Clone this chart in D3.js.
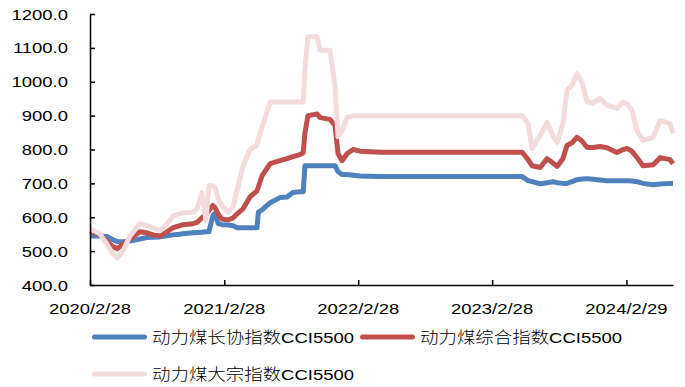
<!DOCTYPE html>
<html>
<head>
<meta charset="utf-8">
<script src="https://cdn.jsdelivr.net/npm/d3@7"></script>
<style>
  html, body { margin: 0; padding: 0; background: #fff; }
  svg { display: block; }
  text { font-family: "Liberation Sans", Arial, "Noto Sans CJK SC", sans-serif; fill: #000; }
  .legend-text { font-weight: 300; }
</style>
</head>
<body>
<svg id="chart" width="685" height="387"></svg>
<script>
// Observation dates (weekly index, key turning points)
const dates = [
  "2020-02-28","2020-03-26","2020-04-14","2020-04-28","2020-05-12","2020-05-28","2020-06-16",
  "2020-07-13","2020-08-01","2020-08-18","2020-09-06","2020-09-25","2020-10-11","2020-10-30",
  "2020-11-07","2020-12-05","2020-12-16","2020-12-29","2021-01-09","2021-01-17","2021-01-28",
  "2021-02-03","2021-02-11","2021-02-22","2021-03-10","2021-03-24","2021-04-04","2021-04-20",
  "2021-05-09","2021-05-28","2021-06-01","2021-06-11","2021-07-03","2021-07-30","2021-08-18",
  "2021-09-03","2021-09-22","2021-10-01","2021-10-06","2021-10-14","2021-11-08","2021-11-16",
  "2021-12-13","2021-12-27","2022-01-04","2022-01-15","2022-01-29","2022-02-14","2022-03-05",
  "2022-05-01","2023-05-21","2023-06-06","2023-06-17","2023-07-09","2023-07-28","2023-08-13",
  "2023-08-24","2023-09-09","2023-09-20","2023-10-04","2023-10-17","2023-10-31","2023-11-14",
  "2023-11-30","2023-12-19","2024-01-07","2024-02-03","2024-02-20","2024-03-02","2024-03-15",
  "2024-03-29","2024-04-14","2024-05-12","2024-05-31","2024-06-27","2024-07-05"
];

// 动力煤长协指数CCI5500
const longTerm = [
  545,545,543,535,528,528,530,536,540,541,542,545,548,550,
  551,554,555,556,557,557,605,612,582,578,577,575,569,569,
  569,569,615,622,643,658,660,673,675,675,752,752,752,752,
  752,752,735,726,726,724,722,720,720,708,705,699,702,705,
  702,700,700,705,711,713,714,712,710,708,708,708,708,707,
  705,700,696,698,700,700
];

// 动力煤综合指数CCI5500
const composite = [
  560,548,530,515,507,520,536,557,554,548,545,557,569,575,
  578,581,585,598,608,620,635,628,610,595,592,598,610,625,
  660,678,690,723,758,767,773,779,785,790,850,900,905,894,
  889,870,788,767,788,800,795,792,792,770,752,747,773,760,
  750,773,812,820,836,825,806,806,809,805,791,800,803,795,
  776,752,755,776,770,758
];

// 动力煤大宗指数CCI5500
const spot = [
  566,551,521,495,480,500,545,581,575,569,560,581,603,610,
  613,615,625,672,590,693,693,688,655,635,615,630,680,750,
  800,812,830,866,940,940,940,940,940,940,1040,1133,1133,1093,
  1093,985,838,856,895,900,900,900,900,876,803,841,880,840,
  821,876,975,990,1024,998,940,937,951,930,921,940,935,916,
  856,827,836,886,876,847
];

const seriesNames = ["动力煤长协指数CCI5500", "动力煤综合指数CCI5500", "动力煤大宗指数CCI5500"];
const seriesColors = ["#4F81BD", "#C0504D", "#F2DCDB"];
const yTicks = [400, 500, 600, 700, 800, 900, 1000, 1100, 1200];
const xTickLabels = ["2020/2/28", "2021/2/28", "2022/2/28", "2023/2/28", "2024/2/29"];
const xStart = "2020-02-28", xEnd = "2024-07-05";

const parseDate = d3.timeParse("%Y-%m-%d");
const parseTick = d3.timeParse("%Y/%m/%d");
const svg = d3.select("#chart");

const x = d3.scaleTime().domain([parseDate(xStart), parseDate(xEnd)]).range([90, 673]);
const y = d3.scaleLinear().domain([400, 1200]).range([285, 14]);

// Labels in this chart are set a little wide
const STRETCH = 1.19;
function widen(sel) {
  sel.each(function () {
    const w = this.getComputedTextLength();
    d3.select(this).attr("textLength", w * STRETCH).attr("lengthAdjust", "spacingAndGlyphs");
  });
}

// Series lines (long-term contract drawn first, spot last)
const values = [longTerm, composite, spot];
const line = d3.line().x(d => x(d.date)).y(d => y(d.v));
values.forEach((vals, i) => {
  const pts = dates.map((d, k) => ({ date: parseDate(d), v: vals[k] }));
  svg.append("path")
    .datum(pts)
    .attr("fill", "none")
    .attr("stroke", seriesColors[i])
    .attr("stroke-width", 5)
    .attr("stroke-linejoin", "round")
    .attr("stroke-linecap", "butt")
    .attr("d", line);
});

// Y axis
const yAxis = svg.append("g").attr("transform", "translate(90,0)")
  .call(d3.axisRight(y).tickValues(yTicks).tickSize(5).tickSizeOuter(0).tickFormat(() => ""));
yAxis.select(".domain").attr("stroke", "#000").attr("stroke-width", 1.5);
yAxis.selectAll(".tick line").attr("stroke", "#000").attr("stroke-width", 1.5);
svg.append("g").selectAll("text").data(yTicks).join("text")
  .attr("x", 68).attr("y", d => y(d)).attr("dy", "0.36em")
  .attr("text-anchor", "end").style("font-size", "15.5px")
  .text(d => d3.format(".1f")(d))
  .call(widen);

// X axis
const tickDates = xTickLabels.map(parseTick);
const xAxis = svg.append("g").attr("transform", "translate(0,285)")
  .call(d3.axisTop(x).tickValues(tickDates).tickSize(5).tickSizeOuter(0).tickFormat(() => ""));
xAxis.select(".domain").attr("stroke", "#000").attr("stroke-width", 1.5);
xAxis.selectAll(".tick line").attr("stroke", "#000").attr("stroke-width", 1.5);
svg.append("g").selectAll("text").data(xTickLabels).join("text")
  .attr("x", (d, i) => x(tickDates[i])).attr("y", 314)
  .attr("text-anchor", "middle").style("font-size", "15.5px")
  .text(d => d)
  .call(widen);

// Legend
const legendPos = [[92, 337], [360, 337], [92, 374]];
legendPos.forEach(([lx, ly], i) => {
  svg.append("line")
    .attr("x1", lx + 2.5).attr("x2", lx + 52.5).attr("y1", ly).attr("y2", ly)
    .attr("stroke", seriesColors[i]).attr("stroke-width", 5).attr("stroke-linecap", "round");
  svg.append("text")
    .attr("class", "legend-text")
    .attr("x", lx + 60).attr("y", ly).attr("dy", "0.36em")
    .style("font-size", "15.5px")
    .text(seriesNames[i])
    .call(widen);
});
</script>
</body>
</html>
